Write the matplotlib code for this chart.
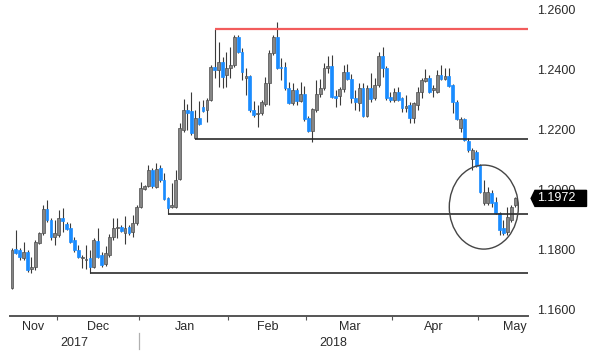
"""Daily candlestick chart with support/resistance lines (Nov 2017 - May 2018)."""

import matplotlib
matplotlib.use("Agg")
import matplotlib.pyplot as plt
from matplotlib.patches import Ellipse, Polygon
from matplotlib.transforms import blended_transform_factory

# Daily OHLC (one candle per trading day)
opens = [
    1.1673, 1.1803, 1.1800, 1.1773, 1.1793, 1.1737, 1.1743, 1.1823, 1.1857, 1.1937,
    1.1900, 1.1843, 1.1850, 1.1907, 1.1887, 1.1873, 1.1833, 1.1800, 1.1773, 1.1767,
    1.1773, 1.1743, 1.1830, 1.1783, 1.1753, 1.1783, 1.1843, 1.1873, 1.1877, 1.1857,
    1.1877, 1.1860, 1.1890, 1.1943, 1.2003, 1.2013, 1.2067, 1.2010, 1.2073, 1.2033,
    1.1973, 1.1943, 1.1943, 1.2037, 1.2200, 1.2267, 1.2263, 1.2173, 1.2240, 1.2277,
    1.2267, 1.2300, 1.2410, 1.2400, 1.2427, 1.2383, 1.2407, 1.2417, 1.2510, 1.2460,
    1.2373, 1.2380, 1.2267, 1.2253, 1.2257, 1.2287, 1.2357, 1.2457, 1.2510, 1.2410,
    1.2410, 1.2340, 1.2290, 1.2333, 1.2297, 1.2320, 1.2240, 1.2197, 1.2267, 1.2320,
    1.2340, 1.2407, 1.2413, 1.2313, 1.2313, 1.2337, 1.2393, 1.2370, 1.2307, 1.2290,
    1.2340, 1.2247, 1.2340, 1.2307, 1.2350, 1.2447, 1.2407, 1.2310, 1.2300, 1.2327,
    1.2307, 1.2273, 1.2283, 1.2240, 1.2283, 1.2327, 1.2363, 1.2373, 1.2333, 1.2327,
    1.2383, 1.2370, 1.2380, 1.2350, 1.2293, 1.2207, 1.2237, 1.2163, 1.2103, 1.2127,
    1.2083, 1.1957, 1.1957, 1.1990, 1.1960, 1.1923, 1.1873, 1.1860, 1.1900, 1.1950,
]
highs = [
    1.1807, 1.1867, 1.1807, 1.1827, 1.1800, 1.1777, 1.1833, 1.1860, 1.1950, 1.1967,
    1.1907, 1.1900, 1.1933, 1.1940, 1.1893, 1.1890, 1.1843, 1.1817, 1.1783, 1.1817,
    1.1800, 1.1840, 1.1873, 1.1793, 1.1813, 1.1853, 1.1907, 1.1907, 1.1883, 1.1913,
    1.1883, 1.1917, 1.1950, 1.2027, 1.2017, 1.2083, 1.2073, 1.2090, 1.2083, 1.2057,
    1.1977, 1.2023, 1.2067, 1.2223, 1.2303, 1.2287, 1.2327, 1.2267, 1.2297, 1.2300,
    1.2307, 1.2417, 1.2537, 1.2493, 1.2443, 1.2460, 1.2477, 1.2517, 1.2517, 1.2473,
    1.2407, 1.2383, 1.2297, 1.2283, 1.2300, 1.2377, 1.2467, 1.2517, 1.2560, 1.2440,
    1.2427, 1.2360, 1.2357, 1.2340, 1.2360, 1.2347, 1.2247, 1.2273, 1.2367, 1.2370,
    1.2423, 1.2447, 1.2450, 1.2333, 1.2343, 1.2417, 1.2420, 1.2387, 1.2333, 1.2357,
    1.2357, 1.2350, 1.2390, 1.2373, 1.2460, 1.2477, 1.2413, 1.2327, 1.2340, 1.2343,
    1.2310, 1.2317, 1.2293, 1.2293, 1.2343, 1.2373, 1.2403, 1.2383, 1.2350, 1.2400,
    1.2417, 1.2407, 1.2407, 1.2353, 1.2300, 1.2243, 1.2240, 1.2173, 1.2140, 1.2133,
    1.2087, 1.2033, 1.2010, 1.2000, 1.1977, 1.1927, 1.1900, 1.1943, 1.1950, 1.1977,
]
lows = [
    1.1670, 1.1787, 1.1767, 1.1767, 1.1727, 1.1723, 1.1733, 1.1820, 1.1850, 1.1893,
    1.1833, 1.1817, 1.1843, 1.1860, 1.1867, 1.1823, 1.1793, 1.1773, 1.1740, 1.1737,
    1.1723, 1.1740, 1.1773, 1.1743, 1.1747, 1.1777, 1.1833, 1.1840, 1.1860, 1.1820,
    1.1850, 1.1843, 1.1883, 1.1940, 1.2000, 1.2010, 1.2007, 1.2007, 1.2027, 1.1967,
    1.1920, 1.1940, 1.1940, 1.2033, 1.2193, 1.2200, 1.2183, 1.2170, 1.2217, 1.2260,
    1.2227, 1.2297, 1.2373, 1.2343, 1.2340, 1.2343, 1.2373, 1.2410, 1.2457, 1.2367,
    1.2317, 1.2260, 1.2243, 1.2210, 1.2250, 1.2280, 1.2283, 1.2450, 1.2403, 1.2367,
    1.2333, 1.2287, 1.2283, 1.2283, 1.2293, 1.2230, 1.2193, 1.2160, 1.2260, 1.2310,
    1.2333, 1.2390, 1.2307, 1.2277, 1.2283, 1.2327, 1.2367, 1.2290, 1.2267, 1.2263,
    1.2243, 1.2243, 1.2293, 1.2300, 1.2343, 1.2377, 1.2300, 1.2293, 1.2293, 1.2297,
    1.2260, 1.2260, 1.2223, 1.2223, 1.2267, 1.2307, 1.2360, 1.2323, 1.2310, 1.2323,
    1.2367, 1.2367, 1.2343, 1.2257, 1.2233, 1.2193, 1.2163, 1.2127, 1.2067, 1.2077,
    1.1990, 1.1950, 1.1950, 1.1943, 1.1920, 1.1850, 1.1850, 1.1850, 1.1893, 1.1943,
]
closes = [
    1.1800, 1.1790, 1.1777, 1.1793, 1.1733, 1.1743, 1.1827, 1.1857, 1.1937, 1.1900,
    1.1843, 1.1857, 1.1907, 1.1897, 1.1870, 1.1827, 1.1800, 1.1777, 1.1777, 1.1770,
    1.1743, 1.1833, 1.1777, 1.1750, 1.1790, 1.1843, 1.1873, 1.1877, 1.1863, 1.1873,
    1.1857, 1.1890, 1.1943, 1.2007, 1.2013, 1.2067, 1.2013, 1.2070, 1.2033, 1.1970,
    1.1940, 1.1950, 1.2033, 1.2207, 1.2267, 1.2257, 1.2190, 1.2240, 1.2220, 1.2263,
    1.2300, 1.2410, 1.2400, 1.2427, 1.2377, 1.2407, 1.2417, 1.2510, 1.2460, 1.2393,
    1.2380, 1.2267, 1.2250, 1.2257, 1.2293, 1.2357, 1.2457, 1.2510, 1.2407, 1.2407,
    1.2340, 1.2290, 1.2333, 1.2297, 1.2320, 1.2237, 1.2197, 1.2270, 1.2320, 1.2340,
    1.2407, 1.2413, 1.2310, 1.2307, 1.2337, 1.2393, 1.2370, 1.2307, 1.2293, 1.2340,
    1.2247, 1.2340, 1.2303, 1.2350, 1.2447, 1.2407, 1.2307, 1.2300, 1.2327, 1.2300,
    1.2273, 1.2280, 1.2240, 1.2290, 1.2327, 1.2367, 1.2373, 1.2327, 1.2340, 1.2383,
    1.2370, 1.2380, 1.2347, 1.2293, 1.2237, 1.2237, 1.2167, 1.2133, 1.2133, 1.2080,
    1.1993, 1.1993, 1.1993, 1.1957, 1.1923, 1.1867, 1.1857, 1.1910, 1.1943, 1.1972,
]

months = ["Nov", "Dec", "Jan", "Feb", "Mar", "Apr", "May"]
years = ["2017", "2018"]
last_price = "1.1972"

# horizontal levels: (price, first candle index, colour)
levels = [
    (1.2537, 52, "#f25c5c"),
    (1.2170, 47, "#2b2b2b"),
    (1.1920, 40, "#2b2b2b"),
    (1.1723, 20, "#2b2b2b"),
]

# layout helpers (candle index units)
month_bounds = [11.5, 32.5, 55.5, 75.5, 97.5, 119.5]
month_label_x = [5.4, 22.1, 44.4, 65.6, 86.7, 108.2, 128.8]
year_bound = 32.5
xlim = (-0.5, 132.3)
ylim = (1.1580, 1.26333)

UP = "#858585"
UP_EDGE = "#4d4d4d"
DOWN = "#1a8cff"
WICK = "#3a3a3a"
TEXT = "#2a2a2a"

plt.rcParams["font.family"] = ["Liberation Sans Narrow", "Liberation Sans", "DejaVu Sans"]

fig = plt.figure(figsize=(6.0, 3.64), dpi=100)
ax = fig.add_axes([10 / 600, 48 / 364, 518 / 600, 316 / 364])

x = list(range(len(opens)))
ax.vlines(x, lows, highs, color=WICK, linewidth=0.8, zorder=2)
for i, (o, c) in enumerate(zip(opens, closes)):
    up = c >= o
    ax.bar(
        i,
        c - o,
        bottom=o,
        width=0.72,
        color=UP if up else DOWN,
        edgecolor=UP_EDGE if up else DOWN,
        linewidth=0.5,
        zorder=3,
    )

for price, start, col in levels:
    lw = 1.6 if col != "#2b2b2b" else 1.2
    ax.hlines(price, start, xlim[1], color=col, linewidth=lw, zorder=4)

# highlight the latest bounce
ax.add_patch(
    Ellipse((120.97, 1.1943), width=17.7, height=0.028, fill=False,
            edgecolor="#454545", linewidth=1.0, zorder=5)
)

ax.set_xlim(*xlim)
ax.set_ylim(*ylim)

for s in ("top", "left", "right"):
    ax.spines[s].set_visible(False)
ax.spines["bottom"].set_color("#555555")
ax.spines["bottom"].set_linewidth(1.4)

# price axis on the right
ax.yaxis.tick_right()
ax.set_yticks([1.16, 1.18, 1.20, 1.22, 1.24, 1.26])
ax.set_yticklabels([f"{v:.4f}" for v in [1.16, 1.18, 1.20, 1.22, 1.24, 1.26]])
ax.tick_params(axis="y", length=0, pad=6.5, labelsize=9, labelcolor=TEXT)

# month boundaries as small ticks, labels placed between them
ax.set_xticks(month_bounds)
ax.set_xticklabels([])
ax.tick_params(axis="x", length=3, width=0.8, color="#555555", direction="out")

for lab, pos in zip(months, month_label_x):
    ax.text(pos, -0.036, lab, transform=ax.get_xaxis_transform(),
            ha="center", va="center", fontsize=9, color=TEXT, clip_on=False)

year_pos = [(xlim[0] + year_bound) / 2, (year_bound + xlim[1]) / 2]
for lab, pos in zip(years, year_pos):
    ax.text(pos, -0.087, lab, transform=ax.get_xaxis_transform(),
            ha="center", va="center", fontsize=9, color=TEXT, clip_on=False)
ax.axvline(year_bound, ymin=-0.103, ymax=-0.053, color="#b0b0b0",
           linewidth=0.9, clip_on=False)

# last price tag
trans = blended_transform_factory(ax.transAxes, ax.transData)
c_last = closes[-1]
h = 0.00267
tag = Polygon(
    [(1.006, c_last), (1.0135, c_last + h), (1.113, c_last + h),
     (1.113, c_last - h), (1.0135, c_last - h)],
    closed=True, transform=trans, facecolor="black", edgecolor="black",
    clip_on=False, zorder=10,
)
ax.add_patch(tag)
ax.text(1.018, c_last, last_price, transform=trans, ha="left", va="center",
        fontsize=9, color="white", clip_on=False, zorder=11)

fig.savefig("out.png", dpi=100)
